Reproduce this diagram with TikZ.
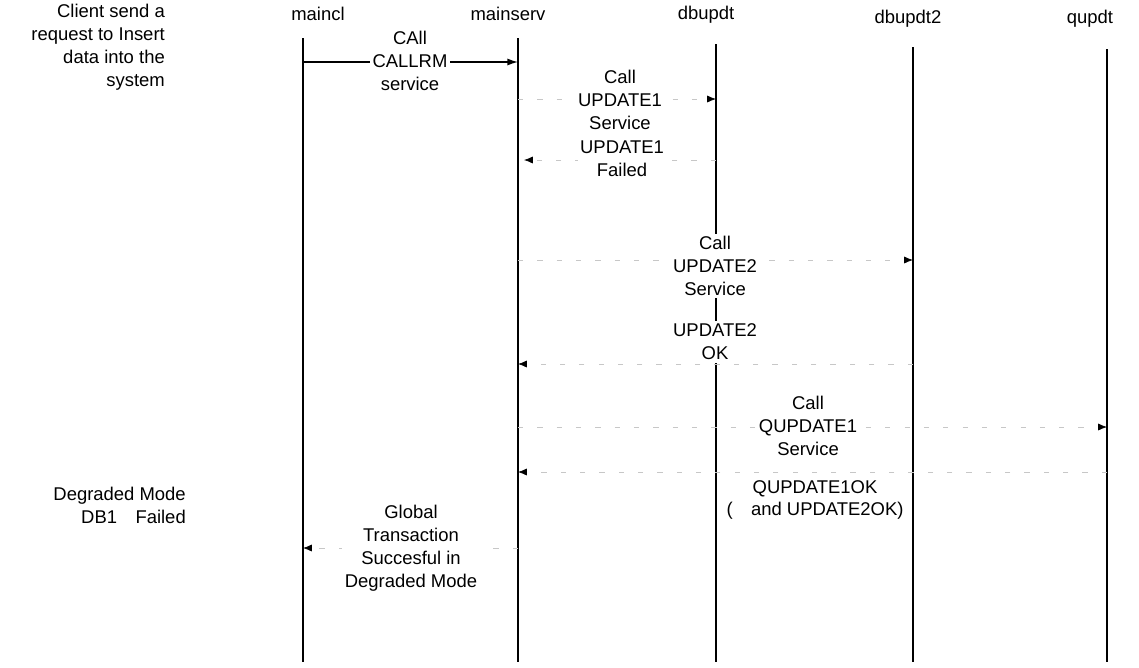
\documentclass[tikz,border=0pt]{standalone}
\usepackage{fontspec}
\setmainfont{Liberation Sans}
\usetikzlibrary{arrows.meta,positioning}

\begin{document}
\begin{tikzpicture}[x=0.02cm,y=-0.02cm,
    font=\fontsize{10.5}{13}\selectfont,
    lifeline/.style={line width=0.8pt},
    msg/.style={line width=0.8pt,-{Latex[length=6pt,width=4pt]}},
    faintmsg/.style={thin,black!22,dash pattern=on 3pt off 8pt,-{Latex[length=5pt,width=4pt,color=black]}},
    msgtext/.style={align=center,fill=white,inner sep=1.5pt}]
    \useasboundingbox (0,0) rectangle (1139,667);

    % Object headers
    \node (maincl) at (318,14) {maincl};
    \node (mainserv) at (508,14) {mainserv};
    \node (dbupdt) at (706,15) {dbupdt};
    \node (dbupdt2) at (908,19) {dbupdt2};
    \node (qupdt) at (1090,19) {qupdt};

    % Lifelines
    \coordinate (maincl-t) at (303,38);   \coordinate (maincl-b) at (303,662);
    \coordinate (mainserv-t) at (518,38); \coordinate (mainserv-b) at (518,662);
    \coordinate (dbupdt-t) at (716,44);   \coordinate (dbupdt-b) at (716,662);
    \coordinate (dbupdt2-t) at (913,47);  \coordinate (dbupdt2-b) at (913,662);
    \coordinate (qupdt-t) at (1107,49);   \coordinate (qupdt-b) at (1107,662);
    \draw[lifeline] (maincl-t) -- (maincl-b);
    \draw[lifeline] (mainserv-t) -- (mainserv-b);
    \draw[lifeline] (dbupdt-t) -- (dbupdt-b);
    \draw[lifeline] (dbupdt2-t) -- (dbupdt2-b);
    \draw[lifeline] (qupdt-t) -- (qupdt-b);

    % Side notes
    \node[align=right,anchor=east] (note1) at (171,47) {Client send a\\request to Insert\\data into the\\system};
    \node[align=right,anchor=east] (note2) at (192,505) {Degraded Mode\\DB1\quad Failed};

    % Message end points
    \coordinate (m1a) at (303,62);  \coordinate (m1b) at (518,62);
    \coordinate (m2a) at (518,99);  \coordinate (m2b) at (716,99);
    \coordinate (m3a) at (716,160); \coordinate (m3b) at (524,160);
    \coordinate (m4a) at (518,260); \coordinate (m4b) at (913,260);
    \coordinate (m5a) at (913,364); \coordinate (m5b) at (518,364);
    \coordinate (m6a) at (518,427); \coordinate (m6b) at (1107,427);
    \coordinate (m7a) at (1107,472); \coordinate (m7b) at (518,472);
    \coordinate (m8a) at (518,548); \coordinate (m8b) at (303,548);

    % Messages
    \draw[msg] (m1a) -- (m1b);
    \draw[faintmsg] (m2a) -- (m2b);
    \draw[faintmsg] (m3a) -- (m3b);
    \draw[faintmsg] (m4a) -- (m4b);
    \draw[faintmsg] (m5a) -- (m5b);
    \draw[faintmsg] (m6a) -- (m6b);
    \draw[faintmsg] (m7a) -- (m7b);
    \draw[faintmsg] (m8a) -- (m8b);

    % Message labels
    \node[msgtext] (callrm) at (410,61) {CAll\\CALLRM\\service};
    \node[msgtext] (upd1) at (620,100) {Call\\UPDATE1\\Service};
    \node[msgtext] (upd1fail) at (622,159) {UPDATE1\\Failed};
    \node[msgtext] (upd2) at (715,266) {Call\\UPDATE2\\Service};
    \node[msgtext] (upd2ok) at (715,342) {UPDATE2\\OK};
    \node[msgtext] (qupd1) at (808,426) {Call\\QUPDATE1\\Service};
    \node[msgtext] (qupd1ok) at (815,500) {QUPDATE1OK\\(\quad and UPDATE2OK)};
    \node[msgtext] (global) at (411,548) {Global\\Transaction\\Succesful in\\Degraded Mode};
\end{tikzpicture}
\end{document}
